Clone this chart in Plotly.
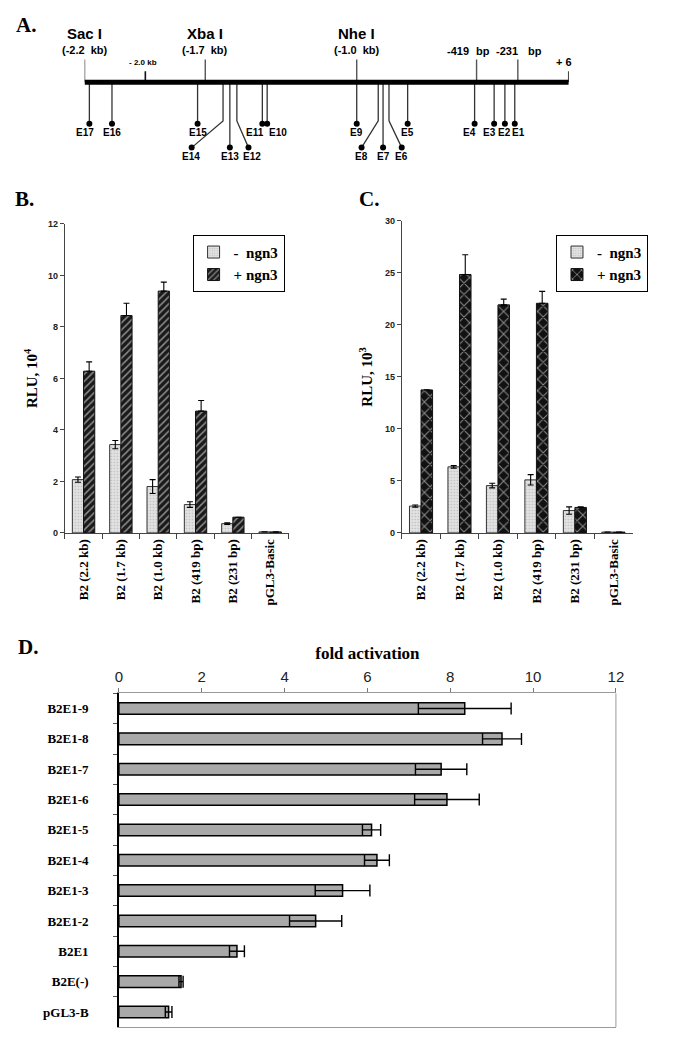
import plotly.graph_objects as go

# ---------------- Panel A: promoter map (schematic positions, kb) ----------------
map_start = -2.2
map_end = 0.006
landmark_names = ["Sac I", "Xba I", "Nhe I"]
landmark_kb_labels = ["(-2.2  kb)", "(-1.7  kb)", "(-1.0  kb)"]
landmark_pos = [-2.2, -1.65, -0.96]
bp_names = ["-419", "-231"]
bp_unit = "bp"
bp_pos = [-0.414, -0.226]
minor_names = ["- 2.0 kb", "+ 6"]
minor_pos = [-1.923, 0.006]

ebox_names = ["E17", "E16", "E15", "E14", "E13", "E12", "E11", "E10", "E9",
              "E8", "E7", "E6", "E5", "E4", "E3", "E2", "E1"]
ebox_site = [-2.178, -2.075, -1.685, -1.569, -1.538, -1.506, -1.390, -1.368, -0.960,
             -0.862, -0.840, -0.813, -0.728, -0.423, -0.334, -0.285, -0.240]
ebox_dot = [-2.178, -2.075, -1.685, -1.712, -1.538, -1.453, -1.390, -1.368, -0.960,
            -0.938, -0.840, -0.755, -0.728, -0.423, -0.334, -0.285, -0.240]
ebox_row = [1, 1, 1, 2, 2, 2, 1, 1, 1, 2, 2, 2, 1, 1, 1, 1, 1]

# ---------------- Panels B and C: luciferase activity ----------------
constructs = ["B2 (2.2 kb)", "B2 (1.7 kb)", "B2 (1.0 kb)", "B2 (419 bp)", "B2 (231 bp)", "pGL3-Basic"]
b_minus = [2.07, 3.43, 1.80, 1.10, 0.36, 0.04]
b_minus_err = [0.10, 0.16, 0.27, 0.11, 0.03, 0.0]
b_plus = [6.28, 8.44, 9.39, 4.73, 0.61, 0.04]
b_plus_err = [0.36, 0.48, 0.35, 0.41, 0.0, 0.0]

c_minus = [2.58, 6.35, 4.55, 5.10, 2.15, 0.08]
c_minus_err = [0.10, 0.12, 0.22, 0.50, 0.35, 0.0]
c_plus = [13.75, 24.85, 21.93, 22.08, 2.45, 0.08]
c_plus_err = [0.0, 1.90, 0.55, 1.15, 0.05, 0.0]

# ---------------- Panel D: fold activation ----------------
d_constructs = ["B2E1-9", "B2E1-8", "B2E1-7", "B2E1-6", "B2E1-5", "B2E1-4",
                "B2E1-3", "B2E1-2", "B2E1", "B2E(-)", "pGL3-B"]
d_fold = [8.35, 9.25, 7.78, 7.92, 6.10, 6.23, 5.40, 4.75, 2.85, 1.50, 1.20]
d_err = [1.12, 0.47, 0.62, 0.78, 0.22, 0.30, 0.66, 0.63, 0.18, 0.05, 0.08]

W, H = 674, 1047
SERIF = "Liberation Serif"
SANS = "Liberation Sans"


def px_x(a, b):
    return [a / W, b / W]


def px_y(top, bottom):
    return [1 - bottom / H, 1 - top / H]


fig = go.Figure()

# ---- Panel A traces (axis x4/y4, y in px-like units: line at 0) ----
ROW_DEPTH = {1: 42, 2: 66}
BEND = 39
stem_x, stem_y = [], []
for s, d, r in zip(ebox_site, ebox_dot, ebox_row):
    if s == d:
        stem_x += [s, s, None]
        stem_y += [0, -ROW_DEPTH[r], None]
    else:
        stem_x += [s, s, d, None]
        stem_y += [0, -BEND, -ROW_DEPTH[r], None]
fig.add_trace(go.Scatter(x=stem_x, y=stem_y, mode="lines", line=dict(color="#333", width=1.3),
                         xaxis="x4", yaxis="y4", showlegend=False, hoverinfo="skip"))

lm_x, lm_y = [], []
for p in landmark_pos + bp_pos:
    lm_x += [p, p, None]
    lm_y += [0, 23, None]
fig.add_trace(go.Scatter(x=lm_x, y=lm_y, mode="lines", line=dict(color="#555", width=1.4),
                         xaxis="x4", yaxis="y4", showlegend=False, hoverinfo="skip"))
mn_x, mn_y = [], []
for p in minor_pos:
    mn_x += [p, p, None]
    mn_y += [0, 11, None]
fig.add_trace(go.Scatter(x=mn_x, y=mn_y, mode="lines", line=dict(color="#111", width=1.6),
                         xaxis="x4", yaxis="y4", showlegend=False, hoverinfo="skip"))
fig.add_trace(go.Scatter(x=[map_start, map_end], y=[0, 0], mode="lines",
                         line=dict(color="black", width=5),
                         xaxis="x4", yaxis="y4", showlegend=False, hoverinfo="skip"))
fig.add_trace(go.Scatter(x=ebox_dot, y=[-ROW_DEPTH[r] for r in ebox_row], mode="markers",
                         marker=dict(color="black", size=6),
                         xaxis="x4", yaxis="y4", showlegend=False, hoverinfo="skip"))

# ---- Panel B ----
minus_pattern = dict(shape=".", fgcolor="#9a9a9a", bgcolor="#e2e2e2", size=3, solidity=0.25)
plus_b_pattern = dict(shape="/", fgcolor="#ffffff", bgcolor="#1a1a1a", size=5, solidity=0.3)
plus_c_pattern = dict(shape="x", fgcolor="#ffffff", bgcolor="#111111", size=8, solidity=0.25)

fig.add_trace(go.Bar(x=constructs, y=b_minus, name="-  ngn3", marker=dict(pattern=minus_pattern,
                     color="#e2e2e2", line=dict(color="#333", width=1)),
                     error_y=dict(type="data", array=b_minus_err, color="black", thickness=1.1, width=3),
                     xaxis="x", yaxis="y", legend="legend"))
fig.add_trace(go.Bar(x=constructs, y=b_plus, name="+ ngn3", marker=dict(pattern=plus_b_pattern,
                     color="#1a1a1a", line=dict(color="#111", width=1)),
                     error_y=dict(type="data", array=b_plus_err, symmetric=False,
                                  arrayminus=[0] * len(b_plus_err), color="black", thickness=1.1, width=3),
                     xaxis="x", yaxis="y", legend="legend"))

# ---- Panel C ----
fig.add_trace(go.Bar(x=constructs, y=c_minus, name="-  ngn3", marker=dict(pattern=minus_pattern,
                     color="#e2e2e2", line=dict(color="#333", width=1)),
                     error_y=dict(type="data", array=c_minus_err, color="black", thickness=1.1, width=3),
                     xaxis="x2", yaxis="y2", legend="legend2"))
fig.add_trace(go.Bar(x=constructs, y=c_plus, name="+ ngn3", marker=dict(pattern=plus_c_pattern,
                     color="#111", line=dict(color="#111", width=1)),
                     error_y=dict(type="data", array=c_plus_err, symmetric=False,
                                  arrayminus=[0] * len(c_plus_err), color="black", thickness=1.1, width=3),
                     xaxis="x2", yaxis="y2", legend="legend2"))

# ---- Panel D ----
fig.add_trace(go.Bar(y=d_constructs, x=d_fold, orientation="h", width=0.38, showlegend=False,
                     marker=dict(pattern=dict(shape=".", fgcolor="#7a7a7a", bgcolor="#adadad",
                                              size=2, solidity=0.2),
                                 color="#adadad", line=dict(color="black", width=1.5)),
                     error_x=dict(type="data", array=d_err, color="black", thickness=1.4, width=6),
                     xaxis="x3", yaxis="y3"))

axis_common = dict(showgrid=False, zeroline=False, showline=True, linecolor="#444", linewidth=1,
                   ticks="outside", tickcolor="#444")
cat_font = dict(family=SERIF, size=13, color="black", weight="bold")
num_font = dict(family=SANS, size=9, color="#222", weight="bold")
legend_style = dict(xanchor="left", yanchor="top", bgcolor="white", bordercolor="black", borderwidth=1,
                    font=dict(family=SERIF, size=15, color="black", weight="bold"),
                    itemwidth=30, tracegroupgap=2, entrywidth=76)

fig.update_layout(
    width=W, height=H, margin=dict(l=0, r=0, t=0, b=0),
    paper_bgcolor="white", plot_bgcolor="white",
    barmode="group", bargap=0.4, bargroupgap=0,
    xaxis=dict(domain=px_x(62, 290), anchor="y", type="category", tickangle=-90,
               tickson="boundaries", tickfont=cat_font, ticklen=5, **axis_common),
    yaxis=dict(domain=px_y(221, 533), anchor="x", range=[0, 12], dtick=2, tickfont=num_font, ticklen=4,
               title=dict(text="RLU, 10<sup>4</sup>", font=dict(family=SERIF, size=15, color="black", weight="bold"),
                          standoff=6),
               **axis_common),
    xaxis2=dict(domain=px_x(405, 640), anchor="y2", type="category", tickangle=-90,
                tickson="boundaries", tickfont=cat_font, ticklen=5, **axis_common),
    yaxis2=dict(domain=px_y(218, 533), anchor="x2", range=[0, 30], dtick=5, tickfont=num_font, ticklen=4,
                title=dict(text="RLU, 10<sup>3</sup>", font=dict(family=SERIF, size=15, color="black", weight="bold"),
                           standoff=8),
                **axis_common),
    xaxis3=dict(domain=px_x(117, 623), anchor="y3", side="top", range=[0, 12], dtick=2,
                showgrid=False, zeroline=False, showline=True, linecolor="#9a9a9a", linewidth=1, mirror=True,
                ticks="outside", tickcolor="#777", ticklen=4,
                tickfont=dict(family=SANS, size=15, color="#222"),
                title=dict(text="fold activation", font=dict(family=SERIF, size=17, color="black", weight="bold"),
                           standoff=4)),
    yaxis3=dict(domain=px_y(695, 1032), anchor="x3", type="category", autorange="reversed",
                showgrid=False, zeroline=False, showline=True, linecolor="black", linewidth=1.5,
                ticks="outside", tickson="boundaries", tickcolor="#555", ticklen=4,
                ticklabelstandoff=26, tickfont=cat_font),
    xaxis4=dict(domain=px_x(82, 575), anchor="y4", range=[map_start, map_end], visible=False),
    yaxis4=dict(domain=px_y(10, 165), anchor="x4", range=[-87, 68], visible=False),
    legend=dict(x=192 / W, y=1 - 232 / H, **legend_style),
    legend2=dict(x=562 / W, y=1 - 232 / H, **legend_style),
)

# right border of panel D
fig.add_shape(type="line", xref="x3 domain", yref="y3 domain", x0=1, x1=1, y0=0, y1=1,
              line=dict(color="#9a9a9a", width=1))

ann = []
# panel letters
for letter, x, y in [("A.", 10, 20), ("B.", 9, 196), ("C.", 359, 196), ("D.", 12, 648)]:
    ann.append(dict(text=letter, x=x / W, y=1 - y / H, xref="paper", yref="paper", xanchor="left",
                    yanchor="middle", showarrow=False,
                    font=dict(family=SERIF, size=21, color="black", weight="bold")))
# panel A texts
for name, kb, p in zip(landmark_names, landmark_kb_labels, landmark_pos):
    ann.append(dict(text=name, x=p, y=49, xref="x4", yref="y4", showarrow=False,
                    font=dict(family=SANS, size=15, color="black", weight="bold")))
    ann.append(dict(text=kb, x=p, y=33, xref="x4", yref="y4", showarrow=False,
                    font=dict(family=SANS, size=11, color="black", weight="bold")))
for name, p, sh_num, sh_unit in zip(bp_names, bp_pos, [-19, -11], [6, 17]):
    ann.append(dict(text=name, x=p, y=32, xref="x4", yref="y4", showarrow=False, xshift=sh_num,
                    font=dict(family=SANS, size=11, color="black", weight="bold")))
    ann.append(dict(text=bp_unit, x=p, y=32, xref="x4", yref="y4", showarrow=False, xshift=sh_unit,
                    font=dict(family=SANS, size=11, color="black", weight="bold")))
for name, p, sh in zip(minor_names, minor_pos, [-2, -5]):
    ann.append(dict(text=name, x=p, y=20, xref="x4", yref="y4", showarrow=False, xshift=sh,
                    font=dict(family=SANS, size=8 if "kb" in name else 11, color="black", weight="bold")))
label_shift = {"E11": -7, "E10": 11, "E17": -4, "E14": -1, "E12": 3, "E1": 4, "E3": -5, "E4": -5}
for name, d, r in zip(ebox_names, ebox_dot, ebox_row):
    ann.append(dict(text=name, x=d, y=-ROW_DEPTH[r] - 9, xref="x4", yref="y4", showarrow=False,
                    xshift=label_shift.get(name, 0),
                    font=dict(family=SANS, size=10, color="black", weight="bold")))
fig.update_layout(annotations=ann)

fig.write_html("out.html", config={"displayModeBar": False},
               post_script="document.body.style.margin='0';document.body.style.padding='0';")
